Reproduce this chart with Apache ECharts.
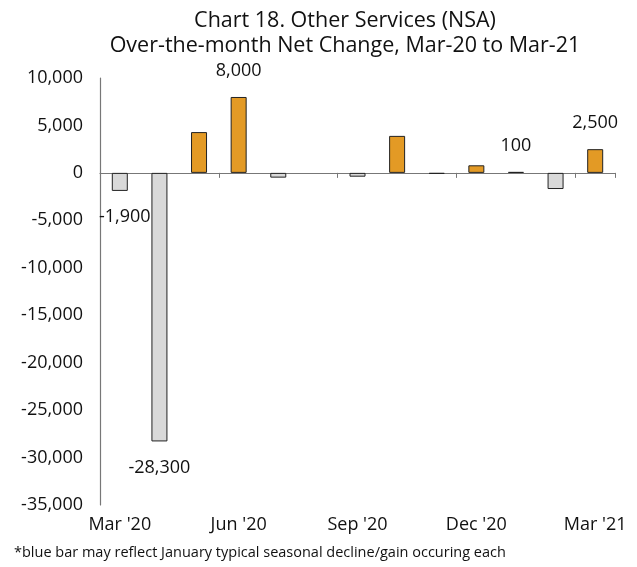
<!DOCTYPE html>
<html>
<head>
<meta charset="utf-8">
<script src="https://cdn.jsdelivr.net/npm/echarts@6/dist/echarts.min.js"></script>
<style>
  html, body { margin: 0; padding: 0; background: #fff; }
  #chart { width: 637px; height: 567px; }
</style>
</head>
<body>
<div id="chart"></div>
<script>
// Monthly over-the-month net change, Other Services (not seasonally adjusted)
const months = ['Mar \'20', 'Apr \'20', 'May \'20', 'Jun \'20', 'Jul \'20', 'Aug \'20', 'Sep \'20',
                'Oct \'20', 'Nov \'20', 'Dec \'20', 'Jan \'21', 'Feb \'21', 'Mar \'21'];
const netChange = [-1900, -28300, 4300, 8000, -500, 0, -400, 3900, -100, 800, 100, -1700, 2500];
// months whose value is printed next to the bar
const labelled = [true, true, false, true, false, false, false, false, false, false, true, false, true];
const yTicks = { min: -35000, max: 10000, step: 5000 };

const FONT = '"Open Sans", "Noto Sans", sans-serif';
const fmt = v => v.toLocaleString('en-US');

const barData = netChange.map((v, i) => ({
  value: v,
  itemStyle: {
    color: v >= 0 ? '#E39A25' : '#D9D9D9',
    borderWidth: v === 0 ? 0 : 1
  },
  label: {
    show: labelled[i],
    position: v >= 0 ? 'top' : 'bottom',
    distance: 17,
    offset: i === 0 ? [5, 0] : [0, 0]
  }
}));

const chart = echarts.init(document.getElementById('chart'));
chart.setOption({
  animation: false,
  title: {
    text: 'Chart 18. Other Services (NSA)\nOver-the-month Net Change, Mar-20 to Mar-21',
    left: 340, textAlign: 'center', top: 3,
    textStyle: { fontFamily: FONT, fontSize: 21.5, fontWeight: 'normal', color: '#111', lineHeight: 25 }
  },
  graphic: [{
    type: 'text', left: 14, top: 545,
    style: { text: '*blue bar may reflect January typical seasonal decline/gain occuring each',
             font: '14.5px ' + FONT, fill: '#111' }
  }],
  grid: { left: 100, right: 22, top: 78, bottom: 62 },
  xAxis: [{
    type: 'category', data: months,
    axisLine: { onZero: true, lineStyle: { color: '#777', width: 1.2 } },
    axisTick: { show: true, interval: 2, length: 5, lineStyle: { color: '#777' } },
    axisLabel: { show: false }
  }, {
    type: 'category', data: months, position: 'bottom',
    axisLine: { show: false, onZero: false },
    axisTick: { show: false },
    axisLabel: { interval: 2, margin: 11, fontFamily: FONT, fontSize: 18, color: '#111' }
  }],
  yAxis: {
    type: 'value', min: yTicks.min, max: yTicks.max, interval: yTicks.step,
    axisLine: { show: true, lineStyle: { color: '#777', width: 1.2 } },
    axisTick: { show: false },
    splitLine: { show: false },
    axisLabel: { formatter: fmt, margin: 17, fontFamily: FONT, fontSize: 18, color: '#111' }
  },
  series: [{
    type: 'bar', xAxisIndex: 0, data: barData,
    barWidth: 16,
    itemStyle: { borderColor: '#222' },
    label: { formatter: p => fmt(p.value), fontFamily: FONT, fontSize: 18, color: '#111' }
  }]
});
</script>
</body>
</html>
